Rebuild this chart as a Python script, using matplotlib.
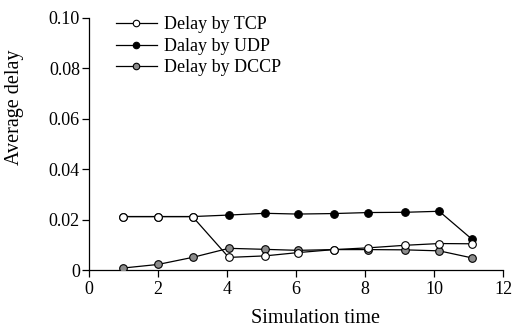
import matplotlib
matplotlib.use("Agg")
import matplotlib.pyplot as plt

x_tcp = [1, 2, 3, 4.05, 5.1, 6.05, 7.1, 8.1, 9.15, 10.15, 11.1]
tcp = [0.0212, 0.0212, 0.0212, 0.0050, 0.0056, 0.0069, 0.0081, 0.0088, 0.0098, 0.0105, 0.0104]
x_udp = [1, 2, 3, 4.05, 5.1, 6.05, 7.1, 8.1, 9.15, 10.15, 11.1]
udp = [0.0212, 0.0212, 0.0212, 0.0218, 0.0225, 0.0222, 0.0224, 0.0228, 0.0229, 0.0233, 0.0122]
x_dccp = [1, 2, 3, 4.05, 5.1, 6.05, 7.1, 8.1, 9.15, 10.15, 11.1]
dccp = [0.0008, 0.0022, 0.0050, 0.0086, 0.0082, 0.0078, 0.0081, 0.0081, 0.0080, 0.0076, 0.0048]

labels = ["Delay by TCP", "Dalay by UDP", "Delay by DCCP"]
xticks = [0, 2, 4, 6, 8, 10, 12]
yticks = [0, 0.02, 0.04, 0.06, 0.08, 0.10]
yticklabels = ["0", "0.02", "0.04", "0.06", "0.08", "0.10"]

plt.rcParams['font.family'] = ['Liberation Serif', 'DejaVu Serif']

fig = plt.figure(figsize=(5.15, 3.27), dpi=100)
ax = fig.add_axes([0.1728, 0.1743, 0.804, 0.7707])

ms = 5.5
l_udp, = ax.plot(x_udp, udp, '-o', color='black', lw=0.9, ms=ms, mfc='black', mec='black', mew=0.8, label=labels[1], zorder=2)
l_dccp, = ax.plot(x_dccp, dccp, '-o', color='black', lw=0.9, ms=ms, mfc='#8c8c8c', mec='black', mew=0.8, label=labels[2], zorder=3)
l_tcp, = ax.plot(x_tcp, tcp, '-o', color='black', lw=0.9, ms=ms, mfc='white', mec='black', mew=0.8, label=labels[0], zorder=4)

ax.set_xlim(0, 12)
ax.set_ylim(0, 0.10)
ax.set_xticks(xticks)
ax.set_yticks(yticks)
ax.set_yticklabels(yticklabels)
for s in ['top', 'right']:
    ax.spines[s].set_visible(False)
for s in ['left', 'bottom']:
    ax.spines[s].set_linewidth(0.9)
ax.tick_params(direction='out', length=5, width=0.9, labelsize=13, pad=1.5)
ax.tick_params(axis='x', pad=3)

ax.set_xlabel("Simulation time", fontsize=14.5)
ax.xaxis.set_label_coords(0.548, -0.155)
ax.set_ylabel("Average delay", fontsize=14.5)
ax.yaxis.set_label_coords(-0.158, 0.647)

leg = ax.legend([l_tcp, l_udp, l_dccp], labels, loc='upper left', bbox_to_anchor=(0.048, 1.035),
                frameon=False, fontsize=13, handlelength=2.25, handletextpad=0.4,
                labelspacing=0.25, borderaxespad=0, markerscale=0.85)

fig.savefig("out.png", dpi=100)
